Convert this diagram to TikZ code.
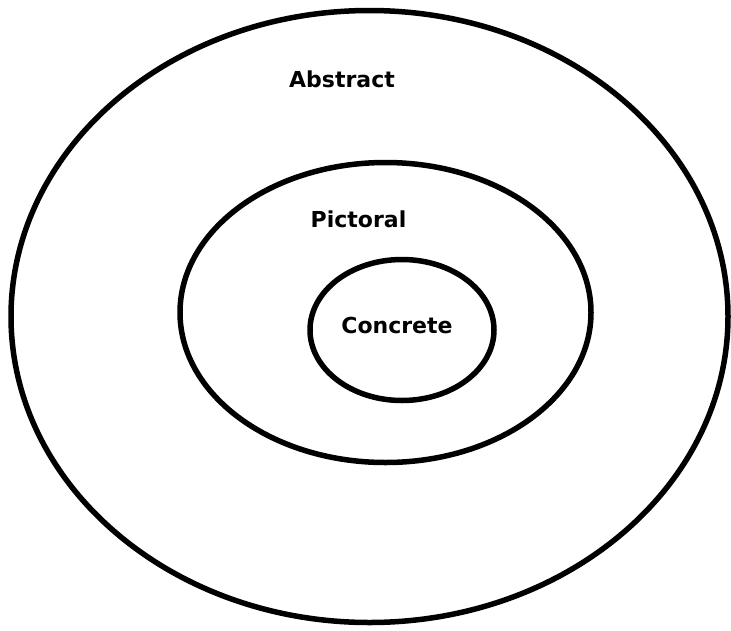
\documentclass[tikz,border=0pt]{standalone}
\usepackage{fontspec}
\setmainfont{DejaVu Sans}
\usepackage{tikz}
\usetikzlibrary{
  calc,
  positioning
}

\begin{document}
\begin{tikzpicture}[x=1pt,y=-1pt]
  \tikzset{
    ring/.style={draw=black, line width=5.5pt},
    label/.style={font=\bfseries\fontsize{22}{26}\selectfont, inner sep=0pt}
  }
\useasboundingbox (0,0) rectangle (731,630);

\coordinate (c1) at (369.5,316.5);
\coordinate (c2) at (385.5,312.5);
\coordinate (c3) at (402,330);

\draw[ring] (c1) ellipse [x radius=358.5, y radius=306];
\draw[ring] (c2) ellipse [x radius=205.5, y radius=150];
\draw[ring] (c3) ellipse [x radius=92, y radius=70.5];

\node[label] (abstract) at (342,79) {Abstract};
\node[label] (pictoral) at (358.5,219) {Pictoral};
\node[label] (concrete) at (397,325) {Concrete};

\end{tikzpicture}
\end{document}
